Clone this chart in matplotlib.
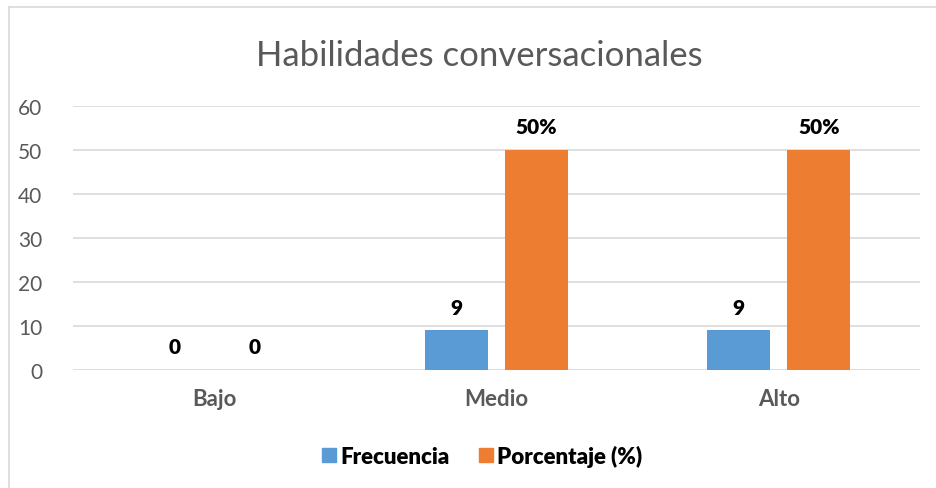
import matplotlib.pyplot as plt
import numpy as np
from matplotlib.lines import Line2D
from matplotlib.patches import Patch

categorias = ["Bajo", "Medio", "Alto"]
frecuencia = [0, 9, 9]
porcentaje = [0, 50, 50]
etiquetas_frec = ["0", "9", "9"]
etiquetas_porc = ["0", "50%", "50%"]

plt.rcParams['font.family'] = ['Lato', 'DejaVu Sans']

azul = "#5B9BD5"
naranja = "#ED7D31"
gris = "#595959"

fig = plt.figure(figsize=(9.36, 4.89), dpi=100)
ax = fig.add_axes([0.078, 0.2413, 0.905, 0.5400])

x = np.arange(len(categorias))
ancho = 0.223
desp = 0.1417
b1 = ax.bar(x - desp, frecuencia, ancho, color=azul, zorder=3)
b2 = ax.bar(x + desp, porcentaje, ancho, color=naranja, zorder=3)

for barras, textos in ((b1, etiquetas_frec), (b2, etiquetas_porc)):
    for b, t in zip(barras, textos):
        ax.annotate(t, (b.get_x() + b.get_width() / 2, b.get_height()),
                    xytext=(0, 10), textcoords="offset points",
                    ha="center", va="bottom", fontsize=15, fontweight="heavy", color="black")

ax.set_xlim(-0.5, 2.5)
ax.set_ylim(0, 60)
ax.set_yticks(range(0, 61, 10))
ax.set_xticks(x)
ax.set_xticklabels(categorias, fontsize=16, fontweight="bold", color=gris)
ax.tick_params(axis="y", labelsize=15, labelcolor=gris, length=0, pad=22)
ax.tick_params(axis="x", length=0, pad=13)
ax.grid(axis="y", color="#D9D9D9", linewidth=1.2, zorder=0)
for s in ax.spines.values():
    s.set_visible(False)

fig.text(0.512, 0.866, "Habilidades conversacionales", ha="center", va="baseline",
         fontsize=25, color=gris)

# borde del gráfico
fig.add_artist(Line2D([0.0093, 0.0093], [0, 0.9836], color="#D9D9D9", linewidth=1.2))
fig.add_artist(Line2D([0.0093, 1.0], [0.9836, 0.9836], color="#D9D9D9", linewidth=1.2))

handles = [Patch(color=azul, label="Frecuencia"), Patch(color=naranja, label="Porcentaje (%)")]
fig.legend(handles=handles, loc="center", bbox_to_anchor=(0.515, 0.066), ncol=2,
           frameon=False, prop={"size": 16, "weight": "heavy"},
           handlelength=0.65, handleheight=0.65, handletextpad=0.2, columnspacing=1.3)

fig.savefig("out.png", dpi=100)
